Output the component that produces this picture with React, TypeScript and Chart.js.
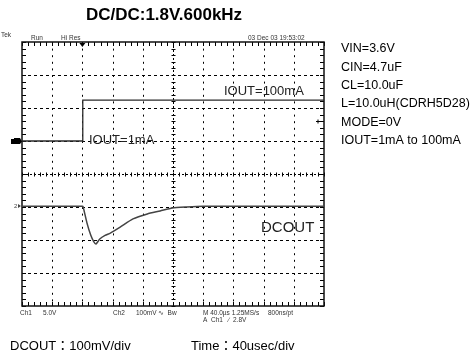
import React, { useEffect, useRef } from "react";
import { Chart, registerables } from "chart.js";

Chart.register(...registerables);

// ---- Data (time in µs, amplitude in screen divisions from centre) ----
const IOUT_TIME = [0, 80, 80.5, 400];
const IOUT_DIV = [1.0, 1.0, 2.24, 2.24];

const DCOUT_TIME = [0, 80, 81, 86, 91, 95, 98, 103, 110, 117, 130, 147, 166, 183, 199, 218, 240, 400];
const DCOUT_DIV = [-0.98, -0.98, -1.0, -1.48, -1.85, -2.05, -2.12, -1.97, -1.86, -1.79, -1.61, -1.36, -1.21, -1.12, -1.03, -1.0, -0.98, -0.98];

const TRIGGER_TIME = 80;
const CH1_REF_DIV = 1.0;
const CH2_REF_DIV = -0.98;
const TRIG_LEVEL_DIV = 1.6;

const TITLE = "DC/DC:1.8V.600kHz";
const PARAMS = ["VIN=3.6V", "CIN=4.7uF", "CL=10.0uF", "L=10.0uH(CDRH5D28)", "MODE=0V", "IOUT=1mA to 100mA"];
const CAPTION_LEFT = "DCOUT：100mV/div";
const CAPTION_RIGHT = "Time：40usec/div";
const LABEL_HIGH = "IOUT=100mA";
const LABEL_LOW = "IOUT=1mA";
const LABEL_DCOUT = "DCOUT";

const TIME_MAX = 400;
const TIME_DIV = 40;
const DIV_MAX = 4;

const toPoints = (xs: number[], ys: number[]) => xs.map((x, i) => ({ x, y: ys[i] }));

const scopePlugin = {
  id: "scopeDecor",
  beforeDatasetsDraw(chart: any) {
    const { ctx, chartArea: a, scales } = chart;
    const xs = scales.x;
    const ys = scales.y;
    ctx.save();
    ctx.strokeStyle = "#000";
    ctx.lineWidth = 1;
    for (let t = TIME_DIV; t < TIME_MAX; t += TIME_DIV) {
      if (t === TIME_MAX / 2) continue;
      const px = Math.round(xs.getPixelForValue(t)) + 0.5;
      ctx.setLineDash([2, 4.6]);
      ctx.beginPath();
      ctx.moveTo(px, a.top);
      ctx.lineTo(px, a.bottom);
      ctx.stroke();
    }
    for (let v = -DIV_MAX + 1; v < DIV_MAX; v++) {
      if (v === 0) continue;
      const py = Math.round(ys.getPixelForValue(v)) + 0.5;
      ctx.setLineDash([3, 3]);
      ctx.beginPath();
      ctx.moveTo(a.left, py);
      ctx.lineTo(a.right, py);
      ctx.stroke();
    }
    const cx = Math.round(xs.getPixelForValue(TIME_MAX / 2)) + 0.5;
    const cy = Math.round(ys.getPixelForValue(0)) + 0.5;
    ctx.setLineDash([2, 2]);
    ctx.beginPath();
    ctx.moveTo(a.left, cy);
    ctx.lineTo(a.right, cy);
    ctx.moveTo(cx, a.top);
    ctx.lineTo(cx, a.bottom);
    ctx.stroke();
    ctx.setLineDash([]);
    ctx.beginPath();
    for (let t = 0; t <= TIME_MAX + 0.01; t += TIME_DIV / 5) {
      const px = Math.round(xs.getPixelForValue(t)) + 0.5;
      ctx.moveTo(px, cy - 2);
      ctx.lineTo(px, cy + 2);
      ctx.moveTo(px, a.top);
      ctx.lineTo(px, a.top + 4);
      ctx.moveTo(px, a.bottom);
      ctx.lineTo(px, a.bottom - 4);
    }
    for (let v = -DIV_MAX; v <= DIV_MAX + 0.01; v += 0.2) {
      const py = Math.round(ys.getPixelForValue(v)) + 0.5;
      ctx.moveTo(cx - 2, py);
      ctx.lineTo(cx + 2, py);
      ctx.moveTo(a.left, py);
      ctx.lineTo(a.left + 4, py);
      ctx.moveTo(a.right, py);
      ctx.lineTo(a.right - 4, py);
    }
    ctx.stroke();
    ctx.lineWidth = 1.5;
    ctx.strokeStyle = "#111";
    ctx.strokeRect(a.left, a.top, a.right - a.left, a.bottom - a.top);
    ctx.restore();
  },
  afterDraw(chart: any) {
    const { ctx, chartArea: a, scales } = chart;
    const xs = scales.x;
    const ys = scales.y;
    ctx.save();
    ctx.fillStyle = "#000";
    ctx.textBaseline = "middle";
    ctx.font = "bold 17px 'Liberation Sans', Arial, sans-serif";
    ctx.textAlign = "center";
    ctx.fillText(TITLE, 164, 15);
    ctx.textAlign = "left";
    ctx.font = "12.5px 'Liberation Sans', Arial, sans-serif";
    PARAMS.forEach((p, i) => ctx.fillText(p, 341, 49 + i * 18.3));
    ctx.font = "13px 'Liberation Sans', 'Noto Sans CJK JP', Arial, sans-serif";
    ctx.fillText(CAPTION_LEFT, 10, 346);
    ctx.fillText(CAPTION_RIGHT, 191, 346);
    ctx.fillStyle = "#222";
    ctx.font = "13px 'Liberation Sans', Arial, sans-serif";
    ctx.fillText(LABEL_HIGH, 224, 91);
    ctx.fillText(LABEL_LOW, 89, 140);
    ctx.font = "15px 'Liberation Sans', Arial, sans-serif";
    ctx.fillText(LABEL_DCOUT, 261, 228);
    ctx.fillStyle = "#333";
    ctx.font = "6.5px 'Liberation Sans', Arial, sans-serif";
    ctx.textBaseline = "alphabetic";
    ctx.fillText("Tek", 1, 37);
    ctx.fillText("Run", 31, 40);
    ctx.fillText("Hi Res", 61, 40);
    ctx.fillText("03 Dec 03 19:53:02", 248, 40);
    ctx.fillText("Ch1", 20, 315);
    ctx.fillText("5.0V", 43, 315);
    ctx.fillText("Ch2", 113, 315);
    ctx.fillText("100mV", 136, 315);
    ctx.fillText("∿  Bw", 158, 315);
    ctx.fillText("M 40.0µs 1.25MS/s", 203, 315);
    ctx.fillText("800ns/pt", 268, 315);
    ctx.fillText("A  Ch1   ∕  2.8V", 203, 322);
    const y1 = Math.round(ys.getPixelForValue(CH1_REF_DIV));
    ctx.fillStyle = "#000";
    ctx.fillRect(11, y1 - 2, 3, 5);
    ctx.beginPath();
    ctx.moveTo(14, y1 - 3);
    ctx.lineTo(20, y1 - 3);
    ctx.lineTo(22, y1 + 0.5);
    ctx.lineTo(20, y1 + 3);
    ctx.lineTo(14, y1 + 3);
    ctx.closePath();
    ctx.fill();
    const y2 = Math.round(ys.getPixelForValue(CH2_REF_DIV));
    ctx.fillStyle = "#444";
    ctx.font = "6px 'Liberation Sans', Arial, sans-serif";
    ctx.fillText("2", 14, y2 + 2);
    ctx.beginPath();
    ctx.moveTo(18, y2 - 2);
    ctx.lineTo(21, y2);
    ctx.lineTo(18, y2 + 2);
    ctx.closePath();
    ctx.fill();
    const tx = xs.getPixelForValue(TRIGGER_TIME);
    ctx.fillStyle = "#000";
    ctx.beginPath();
    ctx.moveTo(tx - 3, a.top + 1);
    ctx.lineTo(tx + 3, a.top + 1);
    ctx.lineTo(tx, a.top + 5);
    ctx.closePath();
    ctx.fill();
    const ty = Math.round(ys.getPixelForValue(TRIG_LEVEL_DIV)) + 0.5;
    ctx.strokeStyle = "#000";
    ctx.lineWidth = 1;
    ctx.beginPath();
    ctx.moveTo(a.right - 8, ty);
    ctx.lineTo(a.right - 4, ty);
    ctx.moveTo(a.right - 6, ty - 2);
    ctx.lineTo(a.right - 6, ty + 2);
    ctx.stroke();
    ctx.restore();
  },
};

export default function App() {
  const ref = useRef<HTMLCanvasElement>(null);
  useEffect(() => {
    if (!ref.current) return;
    const chart = new Chart(ref.current, {
      type: "line",
      data: {
        datasets: [
          {
            label: "IOUT",
            data: toPoints(IOUT_TIME, IOUT_DIV),
            borderColor: "#2a2a2a",
            borderWidth: 1.3,
            pointRadius: 0,
            tension: 0,
          },
          {
            label: "DCOUT",
            data: toPoints(DCOUT_TIME, DCOUT_DIV),
            borderColor: "#444",
            borderWidth: 1.5,
            pointRadius: 0,
            tension: 0.2,
          },
        ],
      },
      options: {
        animation: false,
        responsive: false,
        devicePixelRatio: 1,
        layout: { padding: { left: 22, right: 151, top: 42, bottom: 57 } },
        plugins: { legend: { display: false }, tooltip: { enabled: false }, title: { display: false } },
        scales: {
          x: { type: "linear", min: 0, max: TIME_MAX, display: false },
          y: { type: "linear", min: -DIV_MAX, max: DIV_MAX, display: false },
        },
      },
      plugins: [scopePlugin],
    });
    return () => chart.destroy();
  }, []);
  return (
    <div style={{ position: "absolute", left: 0, top: 0, width: 475, height: 363, background: "#fff" }}>
      <canvas ref={ref} width={475} height={363} style={{ display: "block" }} />
    </div>
  );
}
